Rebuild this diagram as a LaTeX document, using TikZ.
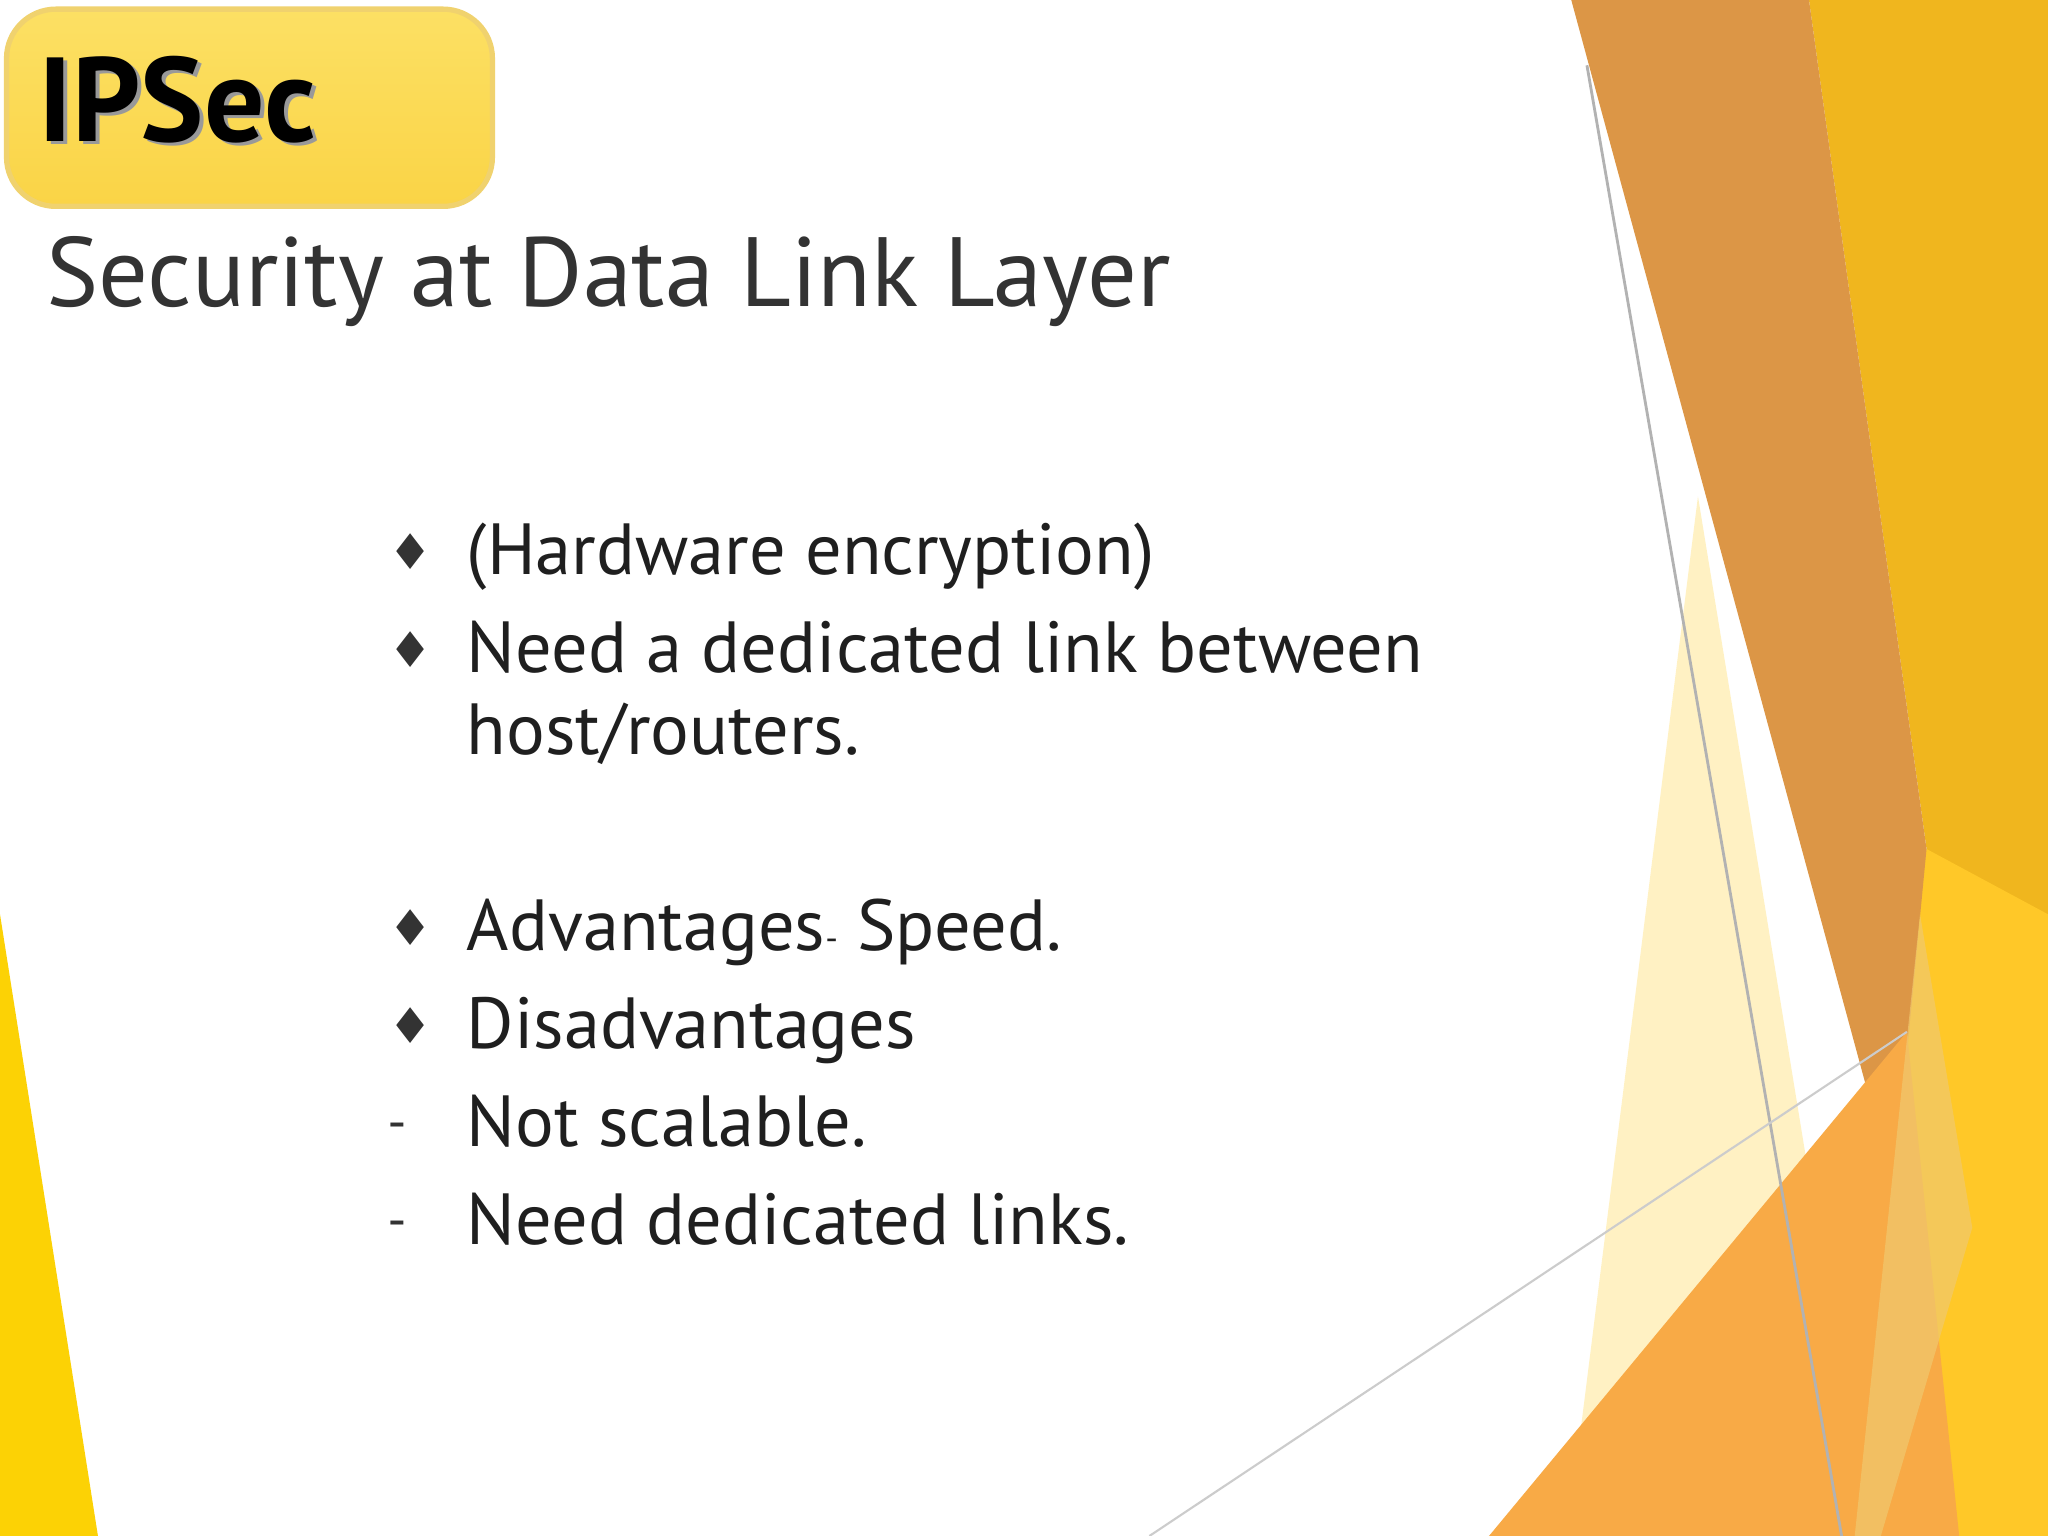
\documentclass[tikz,border=0pt]{standalone}
\usepackage{fontspec}
\setmainfont{PT Sans}
\newfontfamily\symf{DejaVu Sans}
\begin{document}
\begin{tikzpicture}[x=0.013061cm,y=-0.013061cm,
  txt/.style={anchor=base west,inner sep=0pt,font=\fontsize{20.6}{24}\selectfont,text=black!88},
  bul/.style={anchor=base,inner sep=0pt,font=\symf\fontsize{14}{16}\selectfont,text=black!80}]
\useasboundingbox (0,0) rectangle (1568,1176);
\fill[white] (0,0) rectangle (1568,1176);
% decorations
\fill[yellow!70!orange] (0,700) -- (0,1176) -- (75,1176) -- cycle;
\fill[color={rgb,255:red,240;green,182;blue,30}] (1385,0) -- (1568,0) -- (1568,1176) -- (1420,1176) -- (1475,650) -- cycle;
\fill[color={rgb,255:red,255;green,200;blue,40}] (1475,650) -- (1568,700) -- (1568,1176) -- (1380,1176) -- cycle;
\fill[color={rgb,255:red,220;green,150;blue,70}] (1203,0) -- (1385,0) -- (1475,650) -- (1450,910) -- cycle;
\fill[color={rgb,255:red,255;green,236;blue,170},opacity=0.7] (1300,380) -- (1430,1176) -- (1200,1176) -- cycle;
\fill[color={rgb,255:red,248;green,170;blue,70}] (1140,1176) -- (1460,790) -- (1500,1176) -- cycle;
\fill[color={rgb,255:red,240;green,200;blue,110},opacity=0.7] (1470,700) -- (1510,940) -- (1440,1176) -- (1420,1176) -- cycle;
\draw[gray!60,line width=0.8pt] (1215,50) -- (1410,1176);
\draw[gray!40,line width=0.6pt] (880,1176) -- (1460,790);
% title box
\fill[rounded corners=14pt,top color={rgb,255:red,252;green,224;blue,100},bottom color={rgb,255:red,250;green,212;blue,70},draw={rgb,255:red,240;green,210;blue,110},line width=1.5pt] (5,7) rectangle (377,158);
\node[anchor=base west,inner sep=0pt,font=\fontsize{34}{40}\selectfont\bfseries,text=black!40] at (32,111) {IPSec};
\node[anchor=base west,inner sep=0pt,font=\fontsize{34}{40}\selectfont\bfseries,text=black] (t) at (29,108) {IPSec};
\node[anchor=base west,inner sep=0pt,font=\fontsize{28}{32}\selectfont,text=black!80] (s) at (35,235) {Security at Data Link Layer};
% bullets
\node[bul] (b1) at (314,436) {♦};
\node[txt] (l1) at (357,440) {(Hardware encryption)};
\node[bul] (b2) at (314,511) {♦};
\node[txt] (l2) at (357,515) {Need a dedicated link between};
\node[txt] (l3) at (357,578) {host/routers.};
\node[bul] (b3) at (314,724) {♦};
\node[txt] (l4) at (357,728) {Advantages{\fontsize{10}{12}\selectfont-} Speed.};
\node[bul] (b4) at (314,799) {♦};
\node[txt] (l5) at (357,803) {Disadvantages};
\node[bul] (b5) at (304,872) {-};
\node[txt] (l6) at (357,878) {Not scalable.};
\node[bul] (b6) at (304,947) {-};
\node[txt] (l7) at (357,953) {Need dedicated links.};
\end{tikzpicture}
\end{document}
